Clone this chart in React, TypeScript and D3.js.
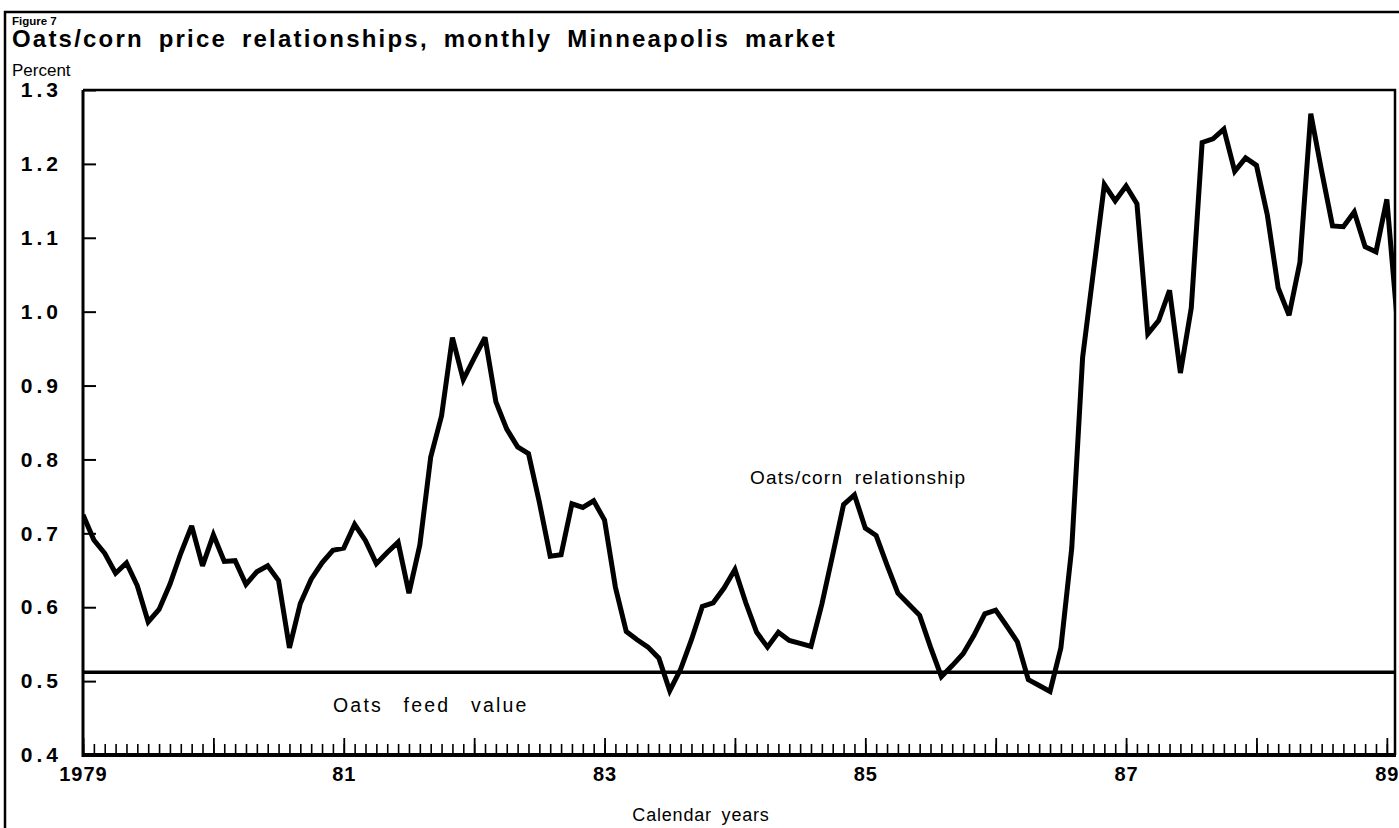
import React, { useEffect, useRef } from "react";
import * as d3 from "d3";

// Oats/corn price ratio, monthly, Jan 1979 - Feb 1989
const ratio = [
  0.725, 0.691, 0.673, 0.646, 0.66, 0.629, 0.58, 0.597, 0.631, 0.673, 0.71, 0.656,
  0.698, 0.662, 0.663, 0.631, 0.648, 0.656, 0.636, 0.545, 0.605, 0.638, 0.66, 0.677,
  0.68, 0.712, 0.69, 0.659, 0.674, 0.688, 0.619, 0.684, 0.803, 0.859, 0.965, 0.908,
  0.937, 0.965, 0.878, 0.841, 0.817, 0.808, 0.742, 0.669, 0.671, 0.74, 0.735, 0.744,
  0.718, 0.627, 0.567, 0.556, 0.546, 0.531, 0.487, 0.516, 0.556, 0.601, 0.606, 0.626,
  0.651, 0.606, 0.566, 0.546, 0.566, 0.555, 0.551, 0.547, 0.604, 0.671, 0.739, 0.752,
  0.707, 0.697, 0.657, 0.619, 0.604, 0.589, 0.546, 0.506, 0.521, 0.537, 0.562, 0.591,
  0.596, 0.575, 0.553, 0.502, 0.494, 0.486, 0.545, 0.68, 0.938, 1.055, 1.172, 1.15,
  1.17, 1.146, 0.97, 0.988, 1.029, 0.917, 1.005, 1.229, 1.234, 1.247, 1.19, 1.208,
  1.198, 1.131, 1.032, 0.995, 1.067, 1.268, 1.19, 1.116, 1.115, 1.135, 1.088, 1.081,
  1.152, 0.98,
];
const feedValue = 0.512;

const yTicks = [0.4, 0.5, 0.6, 0.7, 0.8, 0.9, 1.0, 1.1, 1.2, 1.3];
const yearLabels = ["1979", "81", "83", "85", "87", "89"];
const yearLabelMonths = [0, 24, 48, 72, 96, 120];
const yearStartMonths = [0, 12, 24, 36, 48, 60, 72, 84, 96, 108, 120];

const title = "Oats/corn price relationships, monthly Minneapolis market";
const font = "'Liberation Sans', Arial, Helvetica, sans-serif";

const width = 1399;
const height = 828;
const plot = { left: 83, right: 1395, top: 90, bottom: 755 };

const App = () => {
  const svgRef = useRef<SVGSVGElement>(null);

  useEffect(() => {
    const svg = d3.select(svgRef.current);
    svg.selectAll("*").remove();

    const x = d3.scaleLinear().domain([0, 120.75]).range([plot.left, plot.right]);
    const y = d3.scaleLinear().domain([0.4, 1.3]).range([plot.bottom, plot.top]);

    // outer figure frame (top + left)
    svg.append("path")
      .attr("d", `M5,${height} V12 H${width}`)
      .attr("fill", "none")
      .attr("stroke", "#000")
      .attr("stroke-width", 2.5);

    svg.append("text")
      .attr("x", 12).attr("y", 25)
      .attr("font-family", font).attr("font-weight", "bold").attr("font-size", 11.5)
      .text("Figure 7");

    svg.append("text")
      .attr("x", 12).attr("y", 47)
      .attr("font-family", font).attr("font-weight", "bold").attr("font-size", 24)
      .attr("letter-spacing", 2.2).attr("word-spacing", 6)
      .text(title);

    svg.append("text")
      .attr("x", 12).attr("y", 76)
      .attr("font-family", font).attr("font-size", 17)
      .text("Percent");

    // y axis: inward ticks, bold spaced labels
    const yAxis = d3.axisLeft(y)
      .tickValues(yTicks)
      .tickFormat(d3.format(".1f"))
      .tickSizeInner(-13)
      .tickSizeOuter(0)
      .tickPadding(21)
    const gy = svg.append("g").attr("transform", `translate(${plot.left},0)`).call(yAxis);
    gy.select(".domain").remove();
    gy.selectAll("line").attr("stroke", "#000").attr("stroke-width", 2);
    gy.selectAll("text")
      .attr("font-family", font).attr("font-weight", "bold").attr("font-size", 21)
      .attr("letter-spacing", 4).attr("fill", "#000");

    // x axis: monthly ticks pointing up, longer at each January
    const gxMonths = svg.append("g").attr("transform", `translate(0,${plot.bottom})`)
      .call(d3.axisBottom(x).tickValues(d3.range(0, 121)).tickSize(-11).tickFormat(() => ""));
    gxMonths.select(".domain").remove();
    gxMonths.selectAll("line").attr("stroke", "#000").attr("stroke-width", 1.6);

    const gxYears = svg.append("g").attr("transform", `translate(0,${plot.bottom})`)
      .call(d3.axisBottom(x).tickValues(yearStartMonths).tickSize(-17).tickFormat(() => ""));
    gxYears.select(".domain").remove();
    gxYears.selectAll("line").attr("stroke", "#000").attr("stroke-width", 1.8);

    const gxLabels = svg.append("g").attr("transform", `translate(0,${plot.bottom})`)
      .call(d3.axisBottom(x).tickValues(yearLabelMonths).tickSize(0).tickPadding(12)
        .tickFormat((_, i) => yearLabels[i]));
    gxLabels.select(".domain").remove();
    gxLabels.selectAll("text")
      .attr("font-family", font).attr("font-weight", "bold").attr("font-size", 20)
      .attr("letter-spacing", 1).attr("fill", "#000");

    svg.append("text")
      .attr("x", 701).attr("y", 821)
      .attr("text-anchor", "middle")
      .attr("font-family", font).attr("font-size", 18)
      .attr("letter-spacing", 0.8).attr("word-spacing", 4)
      .text("Calendar years");

    // plot frame
    svg.append("path")
      .attr("d", `M${plot.left},${plot.top} H${plot.right} V${plot.bottom}`)
      .attr("fill", "none").attr("stroke", "#000").attr("stroke-width", 2.5);
    svg.append("line")
      .attr("x1", plot.left).attr("x2", plot.left)
      .attr("y1", plot.top).attr("y2", plot.bottom + 2)
      .attr("stroke", "#000").attr("stroke-width", 3);
    svg.append("line")
      .attr("x1", plot.left).attr("x2", plot.right + 1)
      .attr("y1", plot.bottom).attr("y2", plot.bottom)
      .attr("stroke", "#000").attr("stroke-width", 4);

    // feed value reference line
    svg.append("line")
      .attr("x1", plot.left).attr("x2", plot.right)
      .attr("y1", y(feedValue)).attr("y2", y(feedValue))
      .attr("stroke", "#000").attr("stroke-width", 3.5);

    svg.append("defs").append("clipPath").attr("id", "plot-clip")
      .append("rect")
      .attr("x", plot.left).attr("y", plot.top - 10)
      .attr("width", plot.right - plot.left).attr("height", plot.bottom - plot.top + 10);

    const line = d3.line<number>()
      .x((_, i) => x(i))
      .y((d) => y(d));

    svg.append("path")
      .datum(ratio)
      .attr("clip-path", "url(#plot-clip)")
      .attr("d", line)
      .attr("fill", "none")
      .attr("stroke", "#000")
      .attr("stroke-width", 5)
      .attr("stroke-linejoin", "miter")
      .attr("stroke-miterlimit", 3);

    svg.append("text")
      .attr("x", 750).attr("y", 484)
      .attr("font-family", font).attr("font-size", 19)
      .attr("letter-spacing", 1.2).attr("word-spacing", 5)
      .text("Oats/corn relationship");

    svg.append("text")
      .attr("x", 333).attr("y", 712)
      .attr("font-family", font).attr("font-size", 19.5)
      .attr("letter-spacing", 2.2).attr("word-spacing", 13)
      .text("Oats feed value");
  }, []);

  return (
    <svg
      ref={svgRef}
      width={width}
      height={height}
      style={{ position: "absolute", left: 0, top: 0, background: "#fff" }}
    />
  );
};

export default App;
